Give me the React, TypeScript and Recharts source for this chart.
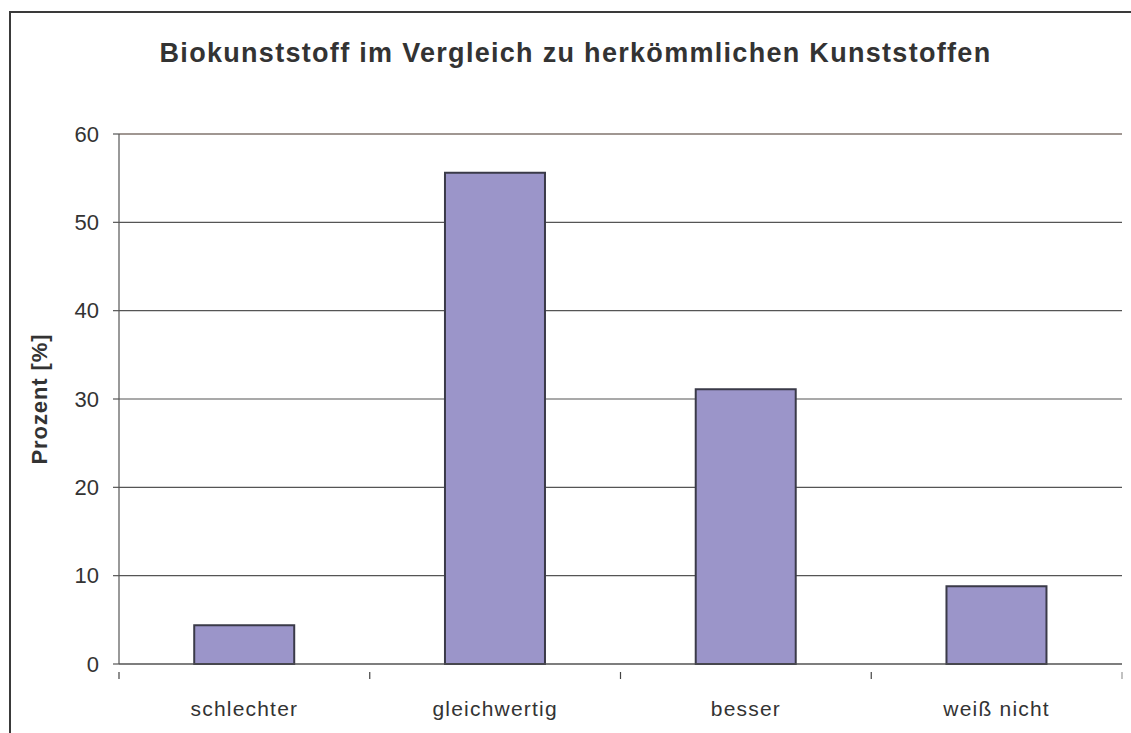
import React from "react";
import { BarChart, Bar, XAxis, YAxis, CartesianGrid, ReferenceLine } from "recharts";

const categories = ["schlechter", "gleichwertig", "besser", "weiß nicht"];
const values = [4.4, 55.6, 31.1, 8.8];
const yTicks = [0, 10, 20, 30, 40, 50, 60];
const title = "Biokunststoff im Vergleich zu herkömmlichen Kunststoffen";
const yLabel = "Prozent [%]";

const data = categories.map((c, i) => ({ name: c, value: values[i] }));

const W = 1131;
const H = 733;
const M = { top: 134, right: 9, bottom: 39, left: 59 };
const YW = 60;
const XH = 30;
const FONT = "'Liberation Sans', Arial, sans-serif";

const XTick = (props: any) => {
  const { x, y, payload, index } = props;
  const band = (W - M.left - YW - M.right) / categories.length;
  const axisY = y;
  return (
    <g>
      <line x1={x - band / 2} x2={x - band / 2} y1={axisY} y2={axisY + 7} stroke="#444" strokeWidth={1.2} />
      {index === categories.length - 1 && (
        <line x1={x + band / 2} x2={x + band / 2} y1={axisY} y2={axisY + 7} stroke="#999" strokeWidth={1.2} />
      )}
      <text x={x} y={axisY + 44} textAnchor="middle" fontSize={21} fill="#333" fontFamily={FONT} letterSpacing={1.2}>
        {payload.value}
      </text>
    </g>
  );
};

export default function App() {
  return (
    <div style={{ position: "absolute", left: 0, top: 0, width: W, height: H, overflow: "hidden", background: "#fff" }}>
      <div
        style={{
          position: "absolute",
          left: 9,
          top: 11,
          width: 1300,
          height: 900,
          borderLeft: "2px solid #3a3a3a",
          borderTop: "2px solid #3a3a3a",
        }}
      />
      <div
        style={{
          position: "absolute",
          left: 0,
          top: 38,
          width: 1151,
          textAlign: "center",
          fontFamily: FONT,
          fontWeight: "bold",
          fontSize: 27,
          letterSpacing: 1.3,
          lineHeight: "31px",
          color: "#333",
          whiteSpace: "nowrap",
        }}
      >
        {title}
      </div>
      <div style={{ position: "absolute", left: 0, top: 0 }}>
        <BarChart width={W} height={H} data={data} margin={M} barCategoryGap="30%">
          <CartesianGrid horizontal vertical={false} stroke="#555" strokeWidth={1.2} />
          <ReferenceLine y={60} stroke="#a09792" strokeWidth={2} />
          <XAxis
            dataKey="name"
            height={XH}
            stroke="#555"
            strokeWidth={1.2}
            tickLine={false}
            tick={<XTick />}
            interval={0}
          />
          <YAxis
            yAxisId={0}
            width={YW}
            domain={[0, 60]}
            ticks={yTicks}
            stroke="#555"
            strokeWidth={1.2}
            tickSize={6}
            tickMargin={14}
            tick={{ fontSize: 22, fill: "#333", fontFamily: FONT }}
            label={{
              value: yLabel,
              angle: -90,
              position: "insideLeft",
              offset: -20,
              style: { fontSize: 22, fontWeight: "bold", fill: "#333", fontFamily: FONT, textAnchor: "middle", letterSpacing: 0.9 },
            }}
          />
          <YAxis
            yAxisId="r"
            orientation="right"
            width={0}
            domain={[0, 60]}
            stroke="#a09792"
            strokeWidth={2}
            tick={false}
            tickLine={false}
          />
          <Bar dataKey="value" fill="#9b95c9" stroke="#3a3a48" strokeWidth={2} isAnimationActive={false} />
        </BarChart>
      </div>
    </div>
  );
}
